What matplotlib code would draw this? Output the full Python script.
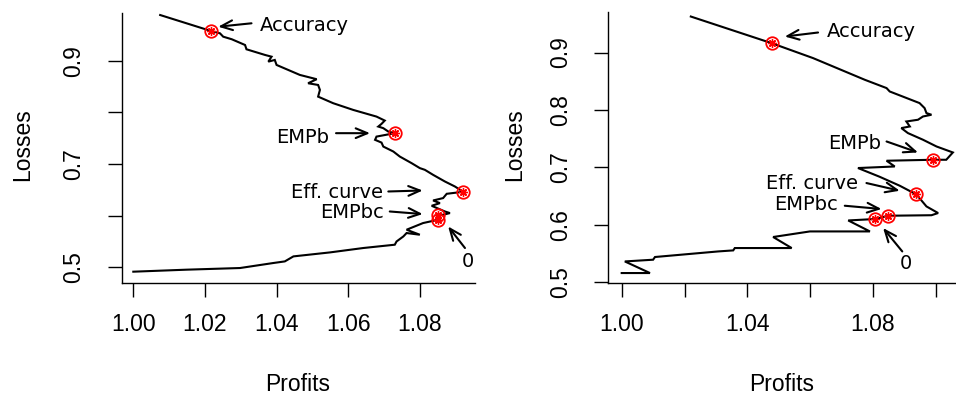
import matplotlib
matplotlib.use("Agg")
import matplotlib.pyplot as plt

# ---------------- data ----------------
# Left panel: efficiency curve (Profits, Losses)
left_profits = [1.0075, 1.0217, 1.0242, 1.0251, 1.0275, 1.0312, 1.0316, 1.0368, 1.0386, 1.0377,
                1.0395, 1.0400, 1.0465, 1.0512, 1.0488, 1.0516, 1.0521, 1.0516, 1.0558, 1.0614,
                1.0679, 1.0702, 1.0693, 1.0684, 1.0698, 1.0712, 1.0730, 1.0679, 1.0675, 1.0693,
                1.0698, 1.0726, 1.0744, 1.0777, 1.0800, 1.0814, 1.0837, 1.0870, 1.0898, 1.0921,
                1.0875, 1.0865, 1.0837, 1.0856, 1.0833, 1.0870, 1.0884, 1.0865, 1.0851, 1.0851,
                1.0809, 1.0763, 1.0800, 1.0763, 1.0754, 1.0735, 1.0730, 1.0642, 1.0549, 1.0447,
                1.0423, 1.0391, 1.0298, 1.0149, 1.0000]
left_losses = [0.9883, 0.9574, 0.9529, 0.9464, 0.9414, 0.9303, 0.9220, 0.9110, 0.9077, 0.8981,
               0.9014, 0.8917, 0.8724, 0.8641, 0.8563, 0.8530, 0.8434, 0.8304, 0.8177, 0.8047,
               0.7918, 0.7841, 0.7777, 0.7725, 0.7694, 0.7628, 0.7597, 0.7531, 0.7468, 0.7415,
               0.7338, 0.7242, 0.7145, 0.7017, 0.6921, 0.6888, 0.6791, 0.6662, 0.6565, 0.6463,
               0.6424, 0.6341, 0.6295, 0.6244, 0.6192, 0.6082, 0.6051, 0.6018, 0.6018, 0.5922,
               0.5858, 0.5729, 0.5632, 0.5665, 0.5599, 0.5502, 0.5439, 0.5375, 0.5290, 0.5213,
               0.5116, 0.5085, 0.4988, 0.4956, 0.4917]

# Right panel
right_profits = [1.0220, 1.0477, 1.0609, 1.0774, 1.0843, 1.0853, 1.0948, 1.0964, 1.0970, 1.0986,
                 1.0959, 1.0943, 1.0906, 1.0917, 1.0890, 1.0911, 1.0959, 1.1002, 1.1054, 1.1033,
                 1.0991, 1.0843, 1.0869, 1.0752, 1.0821, 1.0885, 1.0938, 1.0970, 1.1007, 1.0986,
                 1.0848, 1.0807, 1.0721, 1.0790, 1.0599, 1.0482, 1.0541, 1.0360, 1.0355, 1.0307,
                 1.0106, 1.0100, 1.0010, 1.0090, 1.0000]
right_losses = [0.9626, 0.9163, 0.8903, 0.8525, 0.8381, 0.8322, 0.8120, 0.8033, 0.7946, 0.7917,
                0.7887, 0.7830, 0.7800, 0.7713, 0.7685, 0.7598, 0.7482, 0.7365, 0.7261, 0.7134,
                0.7134, 0.7117, 0.7017, 0.6990, 0.6838, 0.6682, 0.6530, 0.6322, 0.6207, 0.6169,
                0.6160, 0.6103, 0.6078, 0.5887, 0.5887, 0.5790, 0.5598, 0.5598, 0.5557, 0.5539,
                0.5442, 0.5395, 0.5365, 0.5163, 0.5163]

# Highlighted points (Accuracy, EMPb, max, EMPbc, 0)
left_pts_x = [1.0217, 1.0730, 1.0921, 1.0851, 1.0851]
left_pts_y = [0.9574, 0.7597, 0.6463, 0.6018, 0.5922]
right_pts_x = [1.0477, 1.0991, 1.0938, 1.0848, 1.0807]
right_pts_y = [0.9163, 0.7134, 0.6530, 0.6160, 0.6103]

labels = ["Accuracy", "EMPb", "Eff. curve", "EMPbc", "0"]
# label centre, arrow tail, arrow head (data coordinates)
left_label_xy = [(1.0478, 0.969), (1.0474, 0.752), (1.0568, 0.6457), (1.0611, 0.6071), (1.0935, 0.5116)]
left_tail = [(1.0330, 0.9723), (1.0566, 0.7597), (1.0712, 0.6469), (1.0716, 0.6082), (1.0926, 0.5375)]
left_head = [(1.0237, 0.9657), (1.0661, 0.7597), (1.0808, 0.6488), (1.0808, 0.6032), (1.0879, 0.5792)]
right_label_xy = [(1.0795, 0.9365), (1.0742, 0.7412), (1.0607, 0.6729), (1.0587, 0.6351), (1.0903, 0.5337)]
right_tail = [(1.0625, 0.9348), (1.0843, 0.7452), (1.0779, 0.6729), (1.0710, 0.6334), (1.0893, 0.5539)]
right_head = [(1.0519, 0.9278), (1.0943, 0.7261), (1.0885, 0.6595), (1.0827, 0.6277), (1.0832, 0.5946)]

left_xticks = [1.00, 1.02, 1.04, 1.06, 1.08]
left_yticks = [0.5, 0.6, 0.7, 0.8, 0.9]
left_yticklabels = ["0.5", "", "0.7", "", "0.9"]
right_xticks = [1.00, 1.02, 1.04, 1.06, 1.08, 1.10]
right_xticklabels = ["1.00", "", "1.04", "", "1.08", ""]
right_yticks = [0.5, 0.6, 0.7, 0.8, 0.9]
right_yticklabels = ["0.5", "0.6", "0.7", "0.8", "0.9"]

# ---------------- figure ----------------
W, H = 956, 395
fig = plt.figure(figsize=(W / 100, H / 100), dpi=100)
tick_font = "Liberation Sans"
ann_font = "DejaVu Sans"


def px_rect(x0, y0, x1, y1):
    return [x0 / W, 1 - y1 / H, (x1 - x0) / W, (y1 - y0) / H]


axL = fig.add_axes(px_rect(121.7, 12.7, 475, 282.7))
axR = fig.add_axes(px_rect(608.3, 11.7, 956, 282.7))


def setup(ax, px, py, ptsx, ptsy, lab_xy, tails, heads, xt, xtl, yt, ytl, xlim, ylim):
    ax.plot(px, py, color="black", lw=1.5, solid_joinstyle="miter")
    ax.plot(ptsx, ptsy, linestyle="none", marker="o", ms=9, mfc="none", mec="red", mew=1.3)
    ax.plot(ptsx, ptsy, linestyle="none", marker=(8, 2, 0), ms=6, mec="red", mew=1.0)
    for lab, c, t, h in zip(labels, lab_xy, tails, heads):
        ax.annotate("", xy=h, xytext=t,
                    arrowprops=dict(arrowstyle="->,head_length=0.6,head_width=0.25",
                                    lw=1.5, color="black", shrinkA=0, shrinkB=0,
                                    mutation_scale=14))
        ax.text(c[0], c[1], lab, ha="center", va="center", fontsize=14,
                family=ann_font, color="black")
    ax.set_xlim(*xlim)
    ax.set_ylim(*ylim)
    ax.set_xticks(xt)
    ax.set_xticklabels(xtl)
    ax.set_yticks(yt)
    ax.set_yticklabels(ytl, rotation=90, va="center")
    for s in ["top", "right"]:
        ax.spines[s].set_visible(False)
    for s in ["left", "bottom"]:
        ax.spines[s].set_linewidth(1.0)
    ax.tick_params(axis="both", direction="out", length=10, width=1.0,
                   labelsize=16.5)
    ax.tick_params(axis="x", pad=12)
    ax.tick_params(axis="y", pad=16)
    for lbl in ax.get_xticklabels() + ax.get_yticklabels():
        lbl.set_family(tick_font)


setup(axL, left_profits, left_losses, left_pts_x, left_pts_y,
      left_label_xy, left_tail, left_head,
      left_xticks, ["%.2f" % v for v in left_xticks], left_yticks, left_yticklabels,
      (0.99676, 1.0954), (0.4704, 0.9928))
setup(axR, right_profits, right_losses, right_pts_x, right_pts_y,
      right_label_xy, right_tail, right_head,
      right_xticks, right_xticklabels, right_yticks, right_yticklabels,
      (0.99574, 1.1064), (0.4995, 0.971))

# axis titles
fig.text(298 / W, 1 - 391 / H, "Profits", ha="center", va="baseline",
         fontsize=16.5, family=tick_font)
fig.text(782 / W, 1 - 391 / H, "Profits", ha="center", va="baseline",
         fontsize=16.5, family=tick_font)
fig.text(23 / W, 1 - 145 / H, "Losses", ha="center", va="center", rotation=90,
         fontsize=16.5, family=tick_font)
fig.text(515 / W, 1 - 145 / H, "Losses", ha="center", va="center", rotation=90,
         fontsize=16.5, family=tick_font)

fig.savefig("out.png", dpi=100)
